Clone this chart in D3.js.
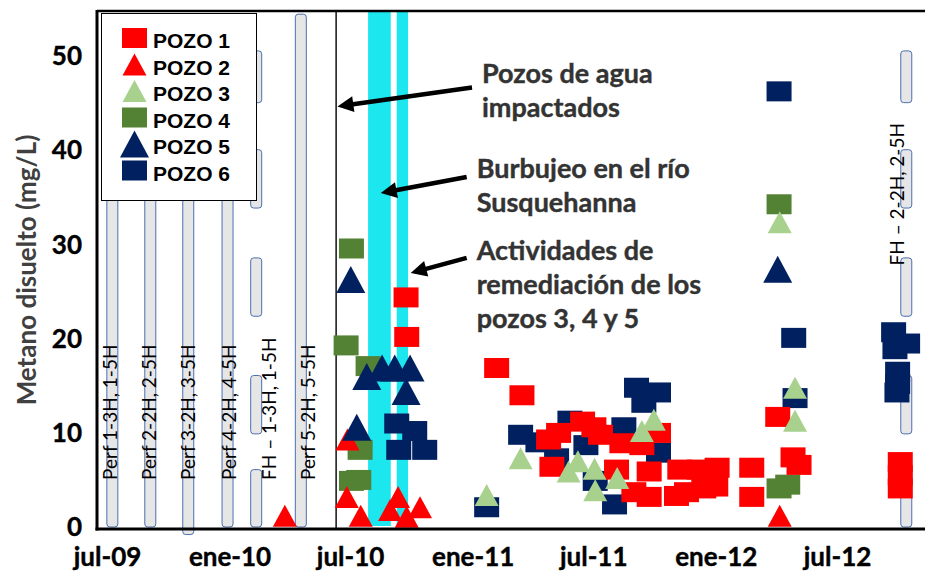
<!DOCTYPE html>
<html>
<head>
<meta charset="utf-8">
<script src="https://cdnjs.cloudflare.com/ajax/libs/d3/7.8.5/d3.min.js"></script>
<style>
  body { margin: 0; background: #fff; }
  svg { display: block; }
</style>
</head>
<body>
<div id="chart"></div>
<script>

// ---- data: [fecha, metano mg/L] ----
var pozo1 = [
  ["2010-09-23",24.4],["2010-09-24",20.2],["2011-02-06",16.9],["2011-03-16",14.0],
  ["2011-04-25",9.3],["2011-05-10",10.0],["2011-04-30",6.4],["2011-06-15",11.2],
  ["2011-07-02",10.6],["2011-07-12",9.8],["2011-08-13",8.9],["2011-08-05",6.1],
  ["2011-10-07",10.0],["2011-09-12",8.7],["2011-08-31",3.7],["2011-09-23",5.9],
  ["2011-09-23",3.2],["2011-11-08",6.1],["2011-11-03",3.3],["2011-11-18",3.7],
  ["2011-12-07",6.1],["2011-12-14",4.1],["2012-01-03",6.3],["2012-01-01",4.3],
  ["2012-02-24",6.3],["2012-02-24",3.2],["2012-04-03",11.7],["2012-04-26",7.4],
  ["2012-05-05",6.6],["2012-10-04",6.9],["2012-10-04",5.5],["2012-10-04",4.1]
];
var pozo2 = [
  ["2010-03-25",1.2],["2010-06-27",9.3],["2010-06-26",3.2],["2010-07-17",1.2],
  ["2010-08-30",1.8],["2010-09-11",3.2],["2010-09-24",1.1],["2010-10-14",2.1],
  ["2012-04-06",1.2]
];
var pozo3 = [
  ["2011-01-22",3.4],["2011-03-14",7.3],["2011-05-25",5.9],["2011-06-08",7.0],
  ["2011-07-03",6.2],["2011-07-04",3.9],["2011-08-06",5.2],["2011-09-12",10.2],
  ["2011-09-30",11.4],["2012-04-06",32.4],["2012-04-29",14.8],["2012-04-29",11.3]
];
var pozo4 = [
  ["2010-07-03",29.6],["2010-06-25",19.3],["2010-07-28",17.1],["2010-07-16",8.2],
  ["2010-07-03",4.9],["2010-07-14",5.0],["2012-04-05",34.3],["2012-04-05",4.1],
  ["2012-04-18",4.5]
];
var pozo5 = [
  ["2010-07-02",26.3],["2010-07-26",16.0],["2010-08-18",16.9],["2010-09-06",16.9],
  ["2010-09-29",16.9],["2010-09-23",14.4],["2010-07-11",10.6],["2012-04-03",27.4]
];
var pozo6 = [
  ["2010-09-09",11.0],["2010-10-06",10.2],["2010-09-12",8.2],["2010-10-21",8.2],
  ["2011-01-22",2.1],["2011-03-14",9.8],["2011-04-09",9.0],["2011-05-27",11.3],
  ["2011-05-07",7.3],["2011-06-20",8.7],["2011-07-04",4.9],["2011-08-02",2.4],
  ["2011-08-16",10.6],["2011-09-04",14.8],["2011-10-07",14.3],["2011-09-15",13.2],
  ["2011-10-07",7.9],["2012-04-05",46.3],["2012-04-27",20.1],["2012-04-29",13.7],
  ["2012-09-24",20.7],["2012-10-15",19.5],["2012-09-26",18.9],["2012-09-30",16.5],
  ["2012-09-30",15.2],["2012-09-29",14.3]
];

var tickDates  = ["2009-07-01","2010-01-01","2010-07-01","2011-01-01","2011-07-01","2012-01-01","2012-07-01"];
var tickLabels = ["jul-09","ene-10","jul-10","ene-11","jul-11","ene-12","jul-12"];
var yTicks = [0, 10, 20, 30, 40, 50];

// perforation / fracking periods (gray bars)
var wellBars = [
  {date:"2009-07-09", segs:[[54.5,0]]},
  {date:"2009-09-04", segs:[[54.5,0]]},
  {date:"2009-10-31", segs:[[54.5,-0.8]]},
  {date:"2009-12-29", segs:[[54.5,0]]},
  {date:"2010-02-10", segs:[[50.6,45.1],[40.1,33.9],[28.6,22.4],[16.1,9.9],[6.1,0]]},
  {date:"2010-04-18", segs:[[54.5,0]]},
  {date:"2012-10-13", segs:[[50.6,45.1],[40.1,33.9],[28.6,22.4],[16.1,9.9],[6.1,0]]}
];
var barLabels = [
  {date:"2009-07-16", value:5.0, text:"Perf 1-3H, 1-5H"},
  {date:"2009-09-12", value:5.0, text:"Perf 2-2H, 2-5H"},
  {date:"2009-11-10", value:5.0, text:"Perf 3-2H, 3-5H"},
  {date:"2010-01-10", value:5.0, text:"Perf 4-2H, 4-5H"},
  {date:"2010-03-11", value:5.0, text:"FH \u2013 1-3H, 1-5H"},
  {date:"2010-05-10", value:5.0, text:"Perf 5-2H, 5-5H"},
  {date:"2012-10-09", value:27.8, text:"FH \u2013 2-2H, 2-5H"}
];

var bubbling = [["2010-07-28","2010-08-31"],["2010-09-09","2010-09-26"]];
var impactDate = "2010-06-10";

var notes = [
  {lines:["Pozos de agua","impactados"], date:"2011-01-15", value:47.2,
   from:["2010-12-31",46.7], to:["2010-06-12",44.7]},
  {lines:["Burbujeo en el r\u00edo","Susquehanna"], date:"2011-01-07", value:37.1,
   from:["2010-12-23",37.2], to:["2010-08-16",35.5]},
  {lines:["Actividades de","remediaci\u00f3n de los","pozos 3, 4 y 5"], date:"2011-01-07", value:28.4,
   from:["2010-12-23",28.6], to:["2010-09-30",27.0]}
];

var series = [
  {name:"POZO 1", data:pozo1, shape:"square",   color:"#ff0000", w:25, h:20},
  {name:"POZO 2", data:pozo2, shape:"triangle", color:"#ff0000", w:24, h:22},
  {name:"POZO 3", data:pozo3, shape:"triangle", color:"#a9d18e", w:24, h:22},
  {name:"POZO 4", data:pozo4, shape:"square",   color:"#548235", w:25, h:20},
  {name:"POZO 5", data:pozo5, shape:"triangle", color:"#002060", w:29, h:27},
  {name:"POZO 6", data:pozo6, shape:"square",   color:"#002060", w:25, h:20}
];
var drawOrder = [3, 5, 0, 1, 4, 2];

// ---- layout ----
var width = 925, height = 573;
var plot = {left: 97, top: 11, right: 925, bottom: 529};
var calibri = "Lato, 'Open Sans', sans-serif";

var parseDate = d3.timeParse("%Y-%m-%d");

var x = d3.scaleTime()
  .domain([parseDate("2009-07-01"), parseDate("2012-07-01")])
  .range([107, 837]);
var y = d3.scaleLinear().domain([0, 55]).range([527, 9.5]);

var svg = d3.select("#chart").append("svg")
  .attr("width", width)
  .attr("height", height);

// gray bars
wellBars.forEach(function(b){
  b.segs.forEach(function(s){
    svg.append("rect")
      .attr("x", x(parseDate(b.date)) - 5.5)
      .attr("y", y(s[0]))
      .attr("width", 11)
      .attr("height", y(s[1]) - y(s[0]))
      .attr("rx", 3)
      .attr("fill", "#e7e6e6")
      .attr("stroke", "#4a6fb0")
      .attr("stroke-width", 1);
  });
});

// cyan bands
svg.selectAll(".band")
  .data(bubbling)
  .enter().append("rect")
  .attr("class", "band")
  .attr("x", function(d){ return x(parseDate(d[0])); })
  .attr("y", plot.top + 1)
  .attr("width", function(d){ return x(parseDate(d[1])) - x(parseDate(d[0])); })
  .attr("height", y(0) - plot.top - 2)
  .attr("fill", "#1ce6ee");

// impacted wells line
svg.append("line")
  .attr("x1", x(parseDate(impactDate))).attr("x2", x(parseDate(impactDate)))
  .attr("y1", plot.top).attr("y2", plot.bottom)
  .attr("stroke", "#111").attr("stroke-width", 1.5);

// labels on the bars
barLabels.forEach(function(l){
  var px = x(parseDate(l.date)), py = y(l.value);
  svg.append("text")
    .attr("transform", "translate(" + px + "," + py + ") rotate(-90)")
    .attr("font-family", calibri)
    .attr("font-size", 19)
    .attr("fill", "#000")
    .text(l.text);
});

// points
function drawMarker(g, s, cx, cy) {
  if (s.shape == "square") {
    g.append("rect")
      .attr("x", cx - s.w/2).attr("y", cy - s.h/2)
      .attr("width", s.w).attr("height", s.h)
      .attr("fill", s.color);
  } else {
    g.append("path")
      .attr("d", "M" + cx + "," + (cy - s.h/2) + "L" + (cx + s.w/2) + "," + (cy + s.h/2) +
                 "L" + (cx - s.w/2) + "," + (cy + s.h/2) + "Z")
      .attr("fill", s.color);
  }
}

drawOrder.forEach(function(i){
  var s = series[i];
  var g = svg.append("g").attr("class", "serie");
  s.data.forEach(function(d){
    drawMarker(g, s, x(parseDate(d[0])), y(d[1]));
  });
});

// annotations
notes.forEach(function(n){
  var t = svg.append("text")
    .attr("x", x(parseDate(n.date)))
    .attr("y", y(n.value))
    .attr("font-family", calibri)
    .attr("font-weight", "bold")
    .attr("font-size", 27)
    .attr("fill", "#333")
    .attr("stroke", "#333")
    .attr("stroke-width", 0.4);
  n.lines.forEach(function(line, k){
    t.append("tspan")
      .attr("x", x(parseDate(n.date)))
      .attr("dy", k == 0 ? 0 : 34)
      .text(line);
  });

  var x1 = x(parseDate(n.from[0])), y1 = y(n.from[1]);
  var x2 = x(parseDate(n.to[0])), y2 = y(n.to[1]);
  var ang = Math.atan2(y2 - y1, x2 - x1);
  var headL = 16, headW = 8;
  var bx = x2 - headL * Math.cos(ang), by = y2 - headL * Math.sin(ang);
  svg.append("line")
    .attr("x1", x1).attr("y1", y1)
    .attr("x2", bx + 2 * Math.cos(ang)).attr("y2", by + 2 * Math.sin(ang))
    .attr("stroke", "#000").attr("stroke-width", 4.5);
  svg.append("path")
    .attr("d", "M" + x2 + "," + y2 +
               "L" + (bx + headW * Math.sin(ang)) + "," + (by - headW * Math.cos(ang)) +
               "L" + (bx - headW * Math.sin(ang)) + "," + (by + headW * Math.cos(ang)) + "Z")
    .attr("fill", "#000");
});

// legend
var legend = svg.append("g").attr("class", "legend");
legend.append("rect")
  .attr("x", 101.5).attr("y", 13.5)
  .attr("width", 155).attr("height", 187)
  .attr("fill", "#fff")
  .attr("stroke", "#000").attr("stroke-width", 1);

series.forEach(function(s, i){
  var base = 48 + i * 26.5;
  drawMarker(legend, s, 134.5, base - 10);
  legend.append("text")
    .attr("x", 153).attr("y", base)
    .attr("font-family", "'Liberation Sans', Arial, sans-serif")
    .attr("font-weight", "bold")
    .attr("font-size", 21)
    .attr("fill", "#000")
    .text(s.name);
});

// axes
var yAxis = svg.append("g")
  .attr("transform", "translate(" + plot.left + ",0)")
  .call(d3.axisLeft(y).tickValues(yTicks).tickSize(0).tickPadding(15));
yAxis.select(".domain").remove();
yAxis.selectAll("text")
  .attr("font-family", calibri)
  .attr("font-weight", "bold")
  .attr("font-size", 26)
  .attr("fill", "#000")
  .attr("stroke", "#000")
  .attr("stroke-width", 0.4);

var xAxis = svg.append("g")
  .attr("transform", "translate(0," + plot.bottom + ")")
  .call(d3.axisBottom(x)
    .tickValues(tickDates.map(parseDate))
    .tickFormat(function(d, i){ return tickLabels[i]; })
    .tickSize(0).tickPadding(19));
xAxis.select(".domain").remove();
xAxis.selectAll("text")
  .attr("font-family", calibri)
  .attr("font-weight", "bold")
  .attr("font-size", 26)
  .attr("fill", "#000")
  .attr("stroke", "#000")
  .attr("stroke-width", 0.4);

// frame
svg.append("line")
  .attr("x1", plot.left).attr("x2", plot.right)
  .attr("y1", plot.top).attr("y2", plot.top)
  .attr("stroke", "#000").attr("stroke-width", 2.5);
svg.append("line")
  .attr("x1", plot.left).attr("x2", plot.left)
  .attr("y1", plot.top - 1).attr("y2", plot.bottom + 1.5)
  .attr("stroke", "#000").attr("stroke-width", 3);
svg.append("line")
  .attr("x1", plot.left - 1.5).attr("x2", plot.right)
  .attr("y1", plot.bottom).attr("y2", plot.bottom)
  .attr("stroke", "#000").attr("stroke-width", 3);

// y title
svg.append("text")
  .attr("transform", "translate(36,270) rotate(-90)")
  .attr("text-anchor", "middle")
  .attr("font-family", calibri)
  .attr("font-weight", "bold")
  .attr("font-size", 26)
  .attr("fill", "#404040")
  .text("Metano disuelto (mg/L)");

</script>
</body>
</html>
